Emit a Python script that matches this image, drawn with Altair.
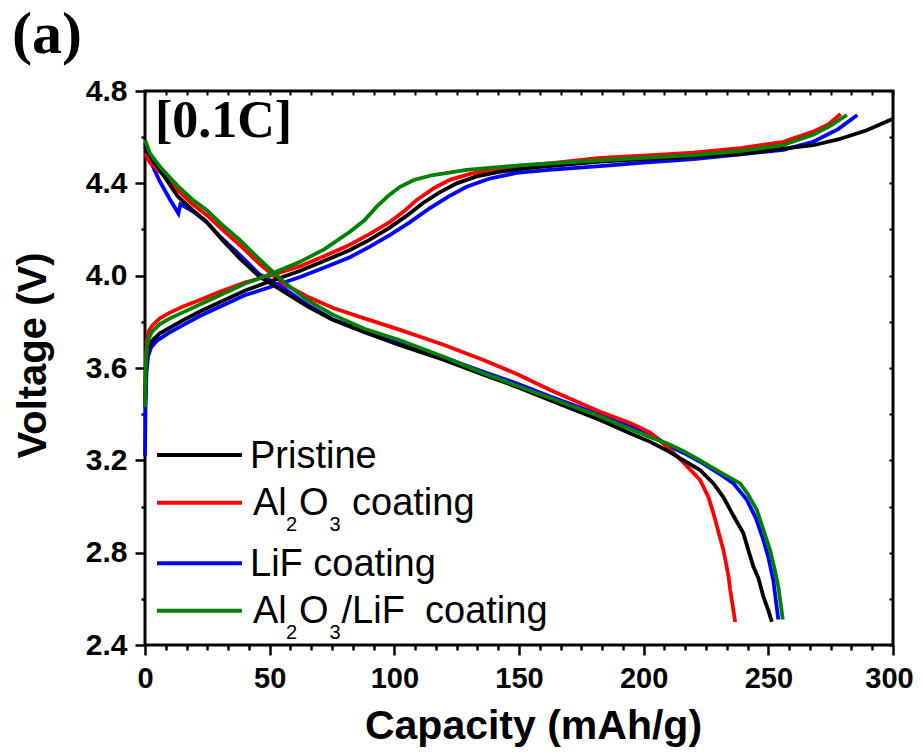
import altair as alt
import pandas as pd

# ---------------- data ----------------
series_names = ["Pristine", "Al2O3 coating", "LiF coating", "Al2O3/LiF coating"]
series_colors = ["#000000", "#ff0000", "#0000ff", "#008000"]

# Pristine
p_ch_cap = [0, 0.4, 0.8, 1.5, 3, 6, 10, 15, 22, 30, 40, 50, 62, 72, 82, 90, 98, 105, 111.5, 118, 125, 133, 142, 155, 170, 182.5, 200, 220, 238.7, 256, 268, 278, 289.5, 300]
p_ch_v = [3.43, 3.58, 3.65, 3.69, 3.72, 3.75, 3.775, 3.805, 3.845, 3.885, 3.935, 3.975, 4.02, 4.065, 4.11, 4.155, 4.207, 4.26, 4.315, 4.36, 4.40, 4.43, 4.45, 4.468, 4.482, 4.494, 4.505, 4.515, 4.527, 4.55, 4.565, 4.59, 4.63, 4.68]
p_dis_cap = [0, 1, 3, 6, 13, 19, 24.7, 31, 38, 46, 55, 65, 75, 88, 102, 120, 136, 150, 162.5, 182.5, 195, 202.6, 209, 216, 222.6, 228, 232, 236, 240, 242, 244, 246, 248, 250, 251.4]
p_dis_v = [4.575, 4.54, 4.50, 4.458, 4.345, 4.285, 4.234, 4.155, 4.075, 3.995, 3.935, 3.868, 3.81, 3.755, 3.70, 3.635, 3.57, 3.515, 3.46, 3.375, 3.315, 3.28, 3.245, 3.20, 3.158, 3.10, 3.04, 2.96, 2.884, 2.81, 2.74, 2.69, 2.61, 2.55, 2.50]

# Al2O3 coating
r_ch_cap = [0, 0.4, 0.8, 1.5, 3, 6, 10, 15, 22, 30, 40, 50, 62, 72, 82, 90, 98.3, 104, 109, 116, 122.3, 130, 138.4, 150, 165, 182.5, 200, 220, 238.7, 256, 268, 274, 279]
r_ch_v = [3.45, 3.65, 3.72, 3.76, 3.785, 3.815, 3.84, 3.865, 3.895, 3.93, 3.97, 4.0, 4.04, 4.085, 4.133, 4.18, 4.233, 4.28, 4.328, 4.38, 4.415, 4.44, 4.458, 4.475, 4.49, 4.51, 4.52, 4.533, 4.553, 4.58, 4.624, 4.655, 4.70]
r_dis_cap = [0, 2, 6, 13, 19, 24.7, 31, 38, 46, 55.5, 65, 75.5, 88, 102.3, 120, 135.7, 150, 162.5, 182.5, 195, 202.6, 209.3, 216, 222.6, 226, 228, 230, 232, 234, 234.7, 235.7, 236.7]
r_dis_v = [4.53, 4.49, 4.45, 4.37, 4.31, 4.263, 4.20, 4.133, 4.05, 3.965, 3.91, 3.86, 3.815, 3.765, 3.70, 3.635, 3.57, 3.505, 3.41, 3.36, 3.32, 3.26, 3.19, 3.115, 3.04, 2.97, 2.89, 2.81, 2.70, 2.64, 2.57, 2.50]

# LiF coating
b_ch_cap = [0, 0.2, 0.6, 1.2, 2.5, 5, 10, 15, 22, 30, 40, 50, 62.2, 72, 82.2, 90, 98.3, 106, 114.3, 122, 129, 138, 149, 162, 182.5, 200, 220, 238.7, 256, 268, 278, 285.7]
b_ch_v = [3.22, 3.42, 3.58, 3.65, 3.69, 3.72, 3.755, 3.785, 3.825, 3.865, 3.915, 3.95, 3.994, 4.035, 4.08, 4.125, 4.177, 4.23, 4.293, 4.345, 4.385, 4.42, 4.445, 4.458, 4.475, 4.49, 4.505, 4.525, 4.545, 4.58, 4.635, 4.696]
b_dis_cap = [0, 2, 6, 10, 13.4, 14.2, 19, 24.7, 31, 38, 46, 55.5, 65, 75.5, 88, 102.3, 120, 135.7, 150, 162.5, 182.5, 202.6, 209.3, 216, 222.6, 232, 236, 241.3, 245, 248, 250, 252, 254]
b_dis_v = [4.56, 4.50, 4.407, 4.33, 4.27, 4.31, 4.28, 4.232, 4.16, 4.09, 4.005, 3.947, 3.875, 3.81, 3.758, 3.707, 3.645, 3.584, 3.53, 3.476, 3.397, 3.317, 3.267, 3.232, 3.194, 3.13, 3.10, 3.03, 2.95, 2.855, 2.78, 2.68, 2.51]

# Al2O3/LiF coating
g_ch_cap = [0, 0.4, 0.8, 1.5, 3, 6, 10, 15, 22, 30, 40, 50, 62.2, 72, 82.2, 88, 93, 98, 102.3, 108, 115.5, 129, 150, 182.5, 200, 220, 238.7, 256, 268, 275, 281.5]
g_ch_v = [3.43, 3.62, 3.69, 3.73, 3.76, 3.79, 3.815, 3.84, 3.875, 3.915, 3.965, 4.005, 4.06, 4.115, 4.19, 4.24, 4.30, 4.35, 4.385, 4.415, 4.436, 4.458, 4.478, 4.50, 4.51, 4.522, 4.54, 4.566, 4.61, 4.65, 4.696]
g_dis_cap = [0, 2, 6, 13, 19, 24.7, 31, 38, 46, 55.5, 65, 75.5, 88, 102.3, 120, 135.7, 150, 162.5, 182.5, 202.6, 209.3, 216, 222.6, 232, 238.7, 242, 245.4, 248, 250.7, 252.5, 254, 255.8]
g_dis_v = [4.588, 4.53, 4.472, 4.39, 4.33, 4.285, 4.22, 4.155, 4.07, 3.974, 3.895, 3.83, 3.77, 3.72, 3.648, 3.577, 3.52, 3.47, 3.39, 3.30, 3.274, 3.24, 3.20, 3.14, 3.10, 3.05, 2.985, 2.90, 2.81, 2.73, 2.653, 2.51]

curves = {
    "Pristine": (p_ch_cap, p_ch_v, p_dis_cap, p_dis_v),
    "Al2O3 coating": (r_ch_cap, r_ch_v, r_dis_cap, r_dis_v),
    "LiF coating": (b_ch_cap, b_ch_v, b_dis_cap, b_dis_v),
    "Al2O3/LiF coating": (g_ch_cap, g_ch_v, g_dis_cap, g_dis_v),
}

x_tick_values = [round(i * 50 / 6, 4) for i in range(37)]
y_tick_values = [round(2.4 + 0.2 * i, 1) for i in range(13)]

rows = []
for name in series_names:
    ccap, cv, dcap, dv = curves[name]
    for i, (c, v) in enumerate(zip(ccap, cv)):
        rows.append({"series": name, "seg": "charge", "idx": i, "cap": c, "volt": v})
    for i, (c, v) in enumerate(zip(dcap, dv)):
        rows.append({"series": name, "seg": "discharge", "idx": i, "cap": c, "volt": v})
df = pd.DataFrame(rows)

# ---------------- styling ----------------
SANS = "Liberation Sans"
SERIF = "Liberation Serif"

x_scale = alt.Scale(domain=[0, 300], nice=False, zero=False)
y_scale = alt.Scale(domain=[2.4, 4.8], nice=False, zero=False)

major_x = "abs(datum.value/50 - round(datum.value/50)) < 0.001"
major_y = "abs((datum.value-2.4)/0.4 - round((datum.value-2.4)/0.4)) < 0.001"

bottom_axis = alt.Axis(
    orient="bottom", values=x_tick_values, grid=False, domain=False,
    labelExpr=f"({major_x}) ? format(datum.value, 'd') : ''",
    tickSize={"condition": {"test": major_x, "value": 10}, "value": 5},
    tickWidth=2.5, tickColor="black",
    labelFont=SANS, labelFontWeight="bold", labelFontSize=29, labelColor="black",
    labelOffset={"condition": {"test": "datum.value > 299", "value": -4}, "value": 0},
    labelPadding=9, labelFlush=False, labelOverlap=False,
    title="Capacity (mAh/g)", titleFont=SANS, titleFontWeight="bold", titleFontSize=41,
    titleColor="black", titleX=388, titleY=93, titleAlign="center", titleBaseline="alphabetic",
)
left_axis = alt.Axis(
    orient="left", values=y_tick_values, grid=False, domain=False,
    labelExpr=f"({major_y}) ? format(datum.value, '.1f') : ''",
    tickSize={"condition": {"test": major_y, "value": 10}, "value": 4},
    tickWidth=2.5, tickColor="black",
    labelFont=SANS, labelFontWeight="bold", labelFontSize=30, labelColor="black",
    labelPadding=8, labelFlush=False, labelOverlap=False,
    title="Voltage (V)", titleFont=SANS, titleFontWeight="bold", titleFontSize=40,
    titleColor="black", titleX=-100, titleY=264, titleAngle=-90, titleAlign="center",
    titleBaseline="alphabetic",
)
top_axis = alt.Axis(
    orient="top", values=x_tick_values, grid=False, domain=False, labels=False,
    tickSize=4, tickWidth=2, tickColor="black", offset=-4, title=None,
)
right_axis = alt.Axis(
    orient="right", values=y_tick_values, grid=False, domain=False, labels=False,
    tickSize=4, tickWidth=2, tickColor="black", offset=-4, title=None,
)

# curves, drawn in z-order
z_order = ["LiF coating", "Al2O3 coating", "Pristine", "Al2O3/LiF coating"]
color_of = dict(zip(series_names, series_colors))
line_layers = []
for s in z_order:
    line_layers.append(
        alt.Chart(df[df["series"] == s]).mark_line(color=color_of[s], strokeWidth=3.8).encode(
            x=alt.X("cap:Q", scale=x_scale, axis=bottom_axis),
            y=alt.Y("volt:Q", scale=y_scale, axis=left_axis),
            detail="seg:N",
            order="idx:Q",
        )
    )

one = pd.DataFrame({"k": [0]})


def text(txt, x, y, size, font=SANS, weight="normal"):
    return alt.Chart(one).mark_text(
        align="left", baseline="alphabetic", font=font, fontSize=size,
        fontWeight=weight, color="black",
    ).encode(x=alt.value(x), y=alt.value(y), text=alt.value(txt))


# legend (drawn by hand because of the subscripts)
legend_line_y = [364, 411.7, 472.3, 519.7]
legend_layers = []
for s, ly in zip(series_names, legend_line_y):
    legend_layers.append(
        alt.Chart(one).mark_rule(color=color_of[s], strokeWidth=4).encode(
            x=alt.value(12), x2=alt.value(97), y=alt.value(ly)
        )
    )
LS, SS, SUB = 38, 20, 15.5
legend_layers += [
    text("Pristine", 105, 377, LS),
    text("Al", 108, 424, LS), text("2", 141, 424 + SUB, SS), text("O", 154, 424, LS),
    text("3", 184.5, 424 + SUB, SS), text("coating", 207, 424, LS),
    text("LiF coating", 105, 485, LS),
    text("Al", 108, 532, LS), text("2", 141, 532 + SUB, SS), text("O", 154, 532, LS),
    text("3", 184.5, 532 + SUB, SS), text("/LiF", 196.5, 532, LS), text("coating", 280, 532, LS),
    text("[0.1C]", 10, 46, 52, font=SERIF, weight="bold"),
    text("(a)", -133, -38, 60, font=SERIF, weight="bold"),
]

inner = alt.layer(*line_layers, *legend_layers)

axis_layer = alt.Chart(df).mark_line(opacity=0).encode(
    x=alt.X("cap:Q", scale=x_scale, axis=top_axis),
    y=alt.Y("volt:Q", scale=y_scale, axis=right_axis),
    detail="series:N",
)

chart = (
    alt.layer(inner, axis_layer)
    .resolve_axis(x="independent", y="independent")
    .properties(
        width=748, height=554,
        autosize=alt.AutoSizeParams(type="none"),
        padding={"left": 137, "top": 83, "right": 22, "bottom": 103},
        background="white",
    )
    .configure_view(stroke="black", strokeWidth=3)
)

chart.save("out.html", embed_options={"renderer": "svg", "actions": False})
